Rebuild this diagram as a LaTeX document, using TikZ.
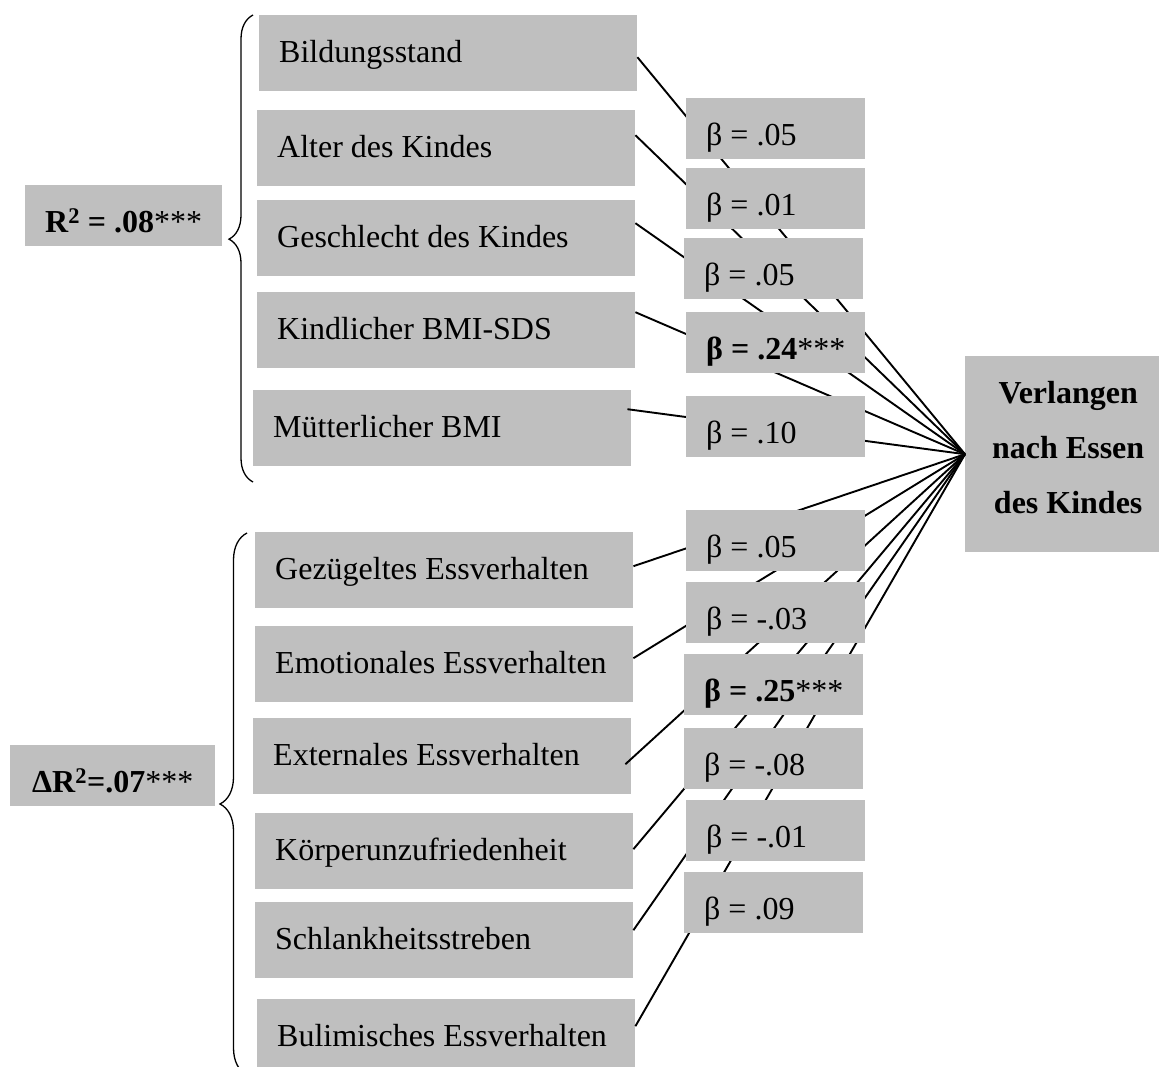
\documentclass[tikz,border=0pt]{standalone}
\usepackage{fontspec}
\setmainfont{Liberation Serif}
\usetikzlibrary{decorations.pathreplacing}
\definecolor{boxgray}{RGB}{191,191,191}
\newcommand{\lefttext}[1]{\makebox[338pt][l]{#1}}
\newcommand{\betatext}[1]{\makebox[139pt][l]{#1}}
\begin{document}
\begin{tikzpicture}[x=1pt,y=-1pt,
  box/.style={fill=boxgray, draw=none, inner ysep=0pt, anchor=north west, font=\fontsize{32pt}{38pt}\selectfont},
  lbox/.style={box, inner xsep=20pt, minimum height=76pt, text height=25pt, text depth=7pt},
  bbox/.style={box, inner xsep=20pt, minimum height=61pt, text height=33pt, text depth=0pt},
  bboxbold/.style={bbox, font=\fontsize{32pt}{38pt}\selectfont\bfseries},
  rbox/.style={box, minimum height=61pt, text height=33pt, text depth=0pt, font=\fontsize{32pt}{38pt}\selectfont\bfseries},
  target/.style={box, minimum width=206pt, minimum height=196pt, text height=47pt, text depth=149pt, font=\fontsize{32pt}{55pt}\selectfont\bfseries},
  link/.style={line width=1.9pt},
  curly/.style={decorate, decoration={brace, amplitude=#1}, line width=1.3pt}
]
\useasboundingbox (0,0) rectangle (1159,1067);

% predictor boxes
\node[lbox] (bild) at (259,15) {\lefttext{Bildungsstand}};
\node[lbox] (alter) at (257,110) {\lefttext{Alter des Kindes}};
\node[lbox] (geschl) at (257,200) {\lefttext{Geschlecht des Kindes}};
\node[lbox] (kindl) at (257,292) {\lefttext{Kindlicher BMI-SDS}};
\node[lbox] (muett) at (253,390) {\lefttext{Mütterlicher BMI}};
\node[lbox] (gez) at (255,532) {\lefttext{Gezügeltes Essverhalten}};
\node[lbox] (emo) at (255,626) {\lefttext{Emotionales Essverhalten}};
\node[lbox] (ext) at (253,718) {\lefttext{Externales Essverhalten}};
\node[lbox] (koerp) at (255,813) {\lefttext{Körperunzufriedenheit}};
\node[lbox] (schl) at (255,902) {\lefttext{Schlankheitsstreben}};
\node[lbox] (bul) at (257,999) {\lefttext{Bulimisches Essverhalten}};

% outcome
\node[target] (dv) at (965,356) {\begin{tabular}[t]{@{}c@{}}Verlangen\\nach Essen\\des Kindes\end{tabular}};

% R2 boxes
\node[rbox, minimum width=197pt] (r2) at (25,185) {R\textsuperscript{2} = .08{\mdseries ***}};
\node[rbox, minimum width=205pt] (dr2) at (10,745) {ΔR\textsuperscript{2}=.07{\mdseries ***}};

% braces
\draw[curly=24pt, decoration={aspect=0.52}] (253,482) -- (253,15);
\draw[curly=27pt] (247,1075) -- (247,533);

% connectors
\draw[link] ([yshift=-4pt]bild.east) -- (dv.west);
\draw[link] ([yshift=13pt]alter.east) -- (dv.west);
\draw[link] ([yshift=15pt]geschl.east) -- (dv.west);
\draw[link] ([yshift=18pt]kindl.east) -- (dv.west);
\draw[link] ([yshift=19pt,xshift=-4pt]muett.east) -- (dv.west);
\draw[link] ([yshift=4pt]gez.east) -- (dv.west);
\draw[link] ([yshift=6pt]emo.east) -- (dv.west);
\draw[link] ([yshift=-8pt,xshift=-6pt]ext.east) -- (dv.west);
\draw[link] ([yshift=2pt]koerp.east) -- (dv.west);
\draw[link] ([yshift=10pt]schl.east) -- (dv.west);
\draw[link] ([yshift=11pt]bul.east) -- (dv.west);

% beta boxes
\node[bbox] (b1) at (686,98) {\betatext{β = .05}};
\node[bbox] (b2) at (686,168) {\betatext{β = .01}};
\node[bbox] (b3) at (684,238) {\betatext{β = .05}};
\node[bboxbold] (b4) at (686,312) {\betatext{β = .24{\mdseries ***}}};
\node[bbox] (b5) at (686,396) {\betatext{β = .10}};
\node[bbox] (b6) at (686,510) {\betatext{β = .05}};
\node[bbox] (b7) at (686,582) {\betatext{β = -.03}};
\node[bboxbold] (b8) at (684,654) {\betatext{β = .25{\mdseries ***}}};
\node[bbox] (b9) at (684,728) {\betatext{β = -.08}};
\node[bbox] (b10) at (686,800) {\betatext{β = -.01}};
\node[bbox] (b11) at (684,872) {\betatext{β = .09}};
\end{tikzpicture}
\end{document}
